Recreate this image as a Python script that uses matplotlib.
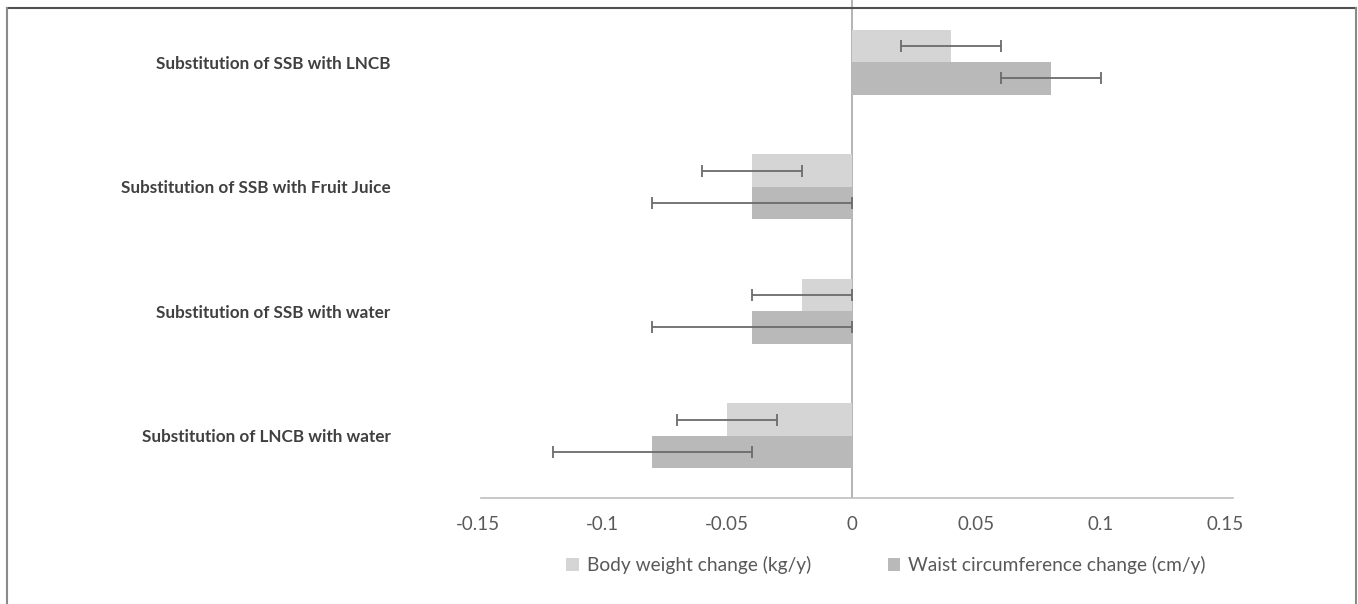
import matplotlib
matplotlib.use("Agg")
import matplotlib.pyplot as plt
from matplotlib.lines import Line2D
import numpy as np

# data
categories = ["Substitution of SSB with LNCB",
              "Substitution of SSB with Fruit Juice",
              "Substitution of SSB with water",
              "Substitution of LNCB with water"]
body_weight = [0.04, -0.04, -0.02, -0.05]
body_err = [0.02, 0.02, 0.02, 0.02]
waist = [0.08, -0.04, -0.04, -0.08]
waist_err = [0.02, 0.04, 0.04, 0.04]
xticks = [-0.15, -0.1, -0.05, 0, 0.05, 0.1, 0.15]
xtick_labels = ["-0.15", "-0.1", "-0.05", "0", "0.05", "0.1", "0.15"]

plt.rcParams['font.family'] = ['Lato', 'DejaVu Sans']

W, H = 1358, 604
fig = plt.figure(figsize=(W / 100, H / 100), dpi=100)
ax = fig.add_axes([478 / W, 1 - 498 / H, (1225 - 478) / W, 498 / H])

y = np.arange(len(categories))
h = 0.26
light = "#d5d5d5"
dark = "#b9b9b9"
ecol = "#6b6b6b"

ax.barh(y - h / 2, body_weight, height=h, color=light, label="Body weight change (kg/y)",
        xerr=body_err, error_kw=dict(ecolor=ecol, elinewidth=1.3, capsize=4, capthick=1.3))
ax.barh(y + h / 2, waist, height=h, color=dark, label="Waist circumference change (cm/y)",
        xerr=waist_err, error_kw=dict(ecolor=ecol, elinewidth=1.3, capsize=4, capthick=1.3))

ax.axvline(0, color="#a8a8a8", lw=1.2, zorder=0.5)

ax.set_xlim(-0.15, 0.15)
ax.set_ylim(len(categories) - 0.5, -0.5)
ax.set_xticks(xticks)
ax.set_xticklabels(xtick_labels)
ax.set_yticks(y)
ax.set_yticklabels(categories, fontweight="bold", color="#404040", fontsize=12.3)
ax.tick_params(axis="y", length=0, pad=63)
ax.tick_params(axis="x", length=0, pad=13, labelsize=13.5, labelcolor="#595959")

for s in ["top", "right", "left", "bottom"]:
    ax.spines[s].set_visible(False)
# horizontal axis line, slightly offset like the original
fig.add_artist(Line2D([481 / W, 1233 / W], [1 - 498 / H, 1 - 498 / H], color="#bfbfbf", lw=1.2))

leg = fig.legend(loc="center", bbox_to_anchor=(886 / W, 1 - 565 / H), ncol=2, frameon=False,
                 handlelength=0.66, handleheight=0.66, handletextpad=0.4, columnspacing=4.0,
                 fontsize=13.8)
for t in leg.get_texts():
    t.set_color("#595959")

# outer frame of the original picture
fig.add_artist(Line2D([7 / W, 1356 / W], [1 - 8 / H, 1 - 8 / H], color="#505050", lw=1.5))
fig.add_artist(Line2D([7 / W, 7 / W], [0, 1 - 8 / H], color="#8a8a8a", lw=1.5))
fig.add_artist(Line2D([1356 / W, 1356 / W], [0, 1 - 8 / H], color="#8a8a8a", lw=1.5))

fig.savefig("out.png", dpi=100)
